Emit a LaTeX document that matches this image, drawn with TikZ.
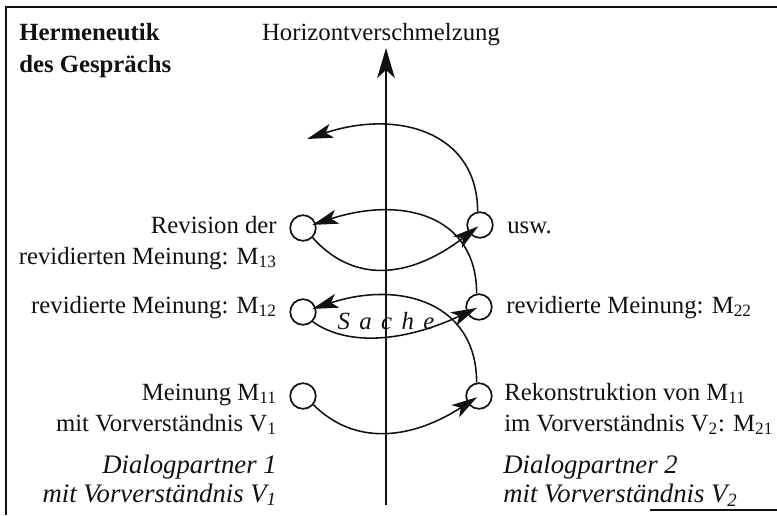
\documentclass[tikz,border=0pt]{standalone}
\usepackage{fontspec}
\setmainfont{Liberation Serif}
\usetikzlibrary{arrows.meta,positioning,calc}
\definecolor{ink}{HTML}{111111}
\tikzset{
  dot/.style={circle,draw=ink,line width=1.2pt,minimum size=0.64cm,inner sep=0pt},
  turn/.style={-{Stealth[length=6.5mm,width=3.6mm,inset=1.6mm]},line width=1.1pt,draw=ink},
  axis/.style={-{Stealth[length=7.5mm,width=4.4mm,inset=2mm]},line width=1.2pt,draw=ink},
  frame/.style={line width=1pt,draw=ink},
  lbl/.style={font=\fontsize{17.6}{22}\selectfont,text=ink,inner sep=0pt},
  partner/.style={font=\fontsize{19}{20.5}\selectfont\itshape,text=ink,inner sep=0pt}
}

\begin{document}
\begin{tikzpicture}[x=0.025cm,y=-0.025cm]
    \useasboundingbox (0,0) rectangle (777,515);
    \fill[white] (0,0) rectangle (777,515);
    \draw[frame] (6,515) -- (6,7) -- (777,7);
    \draw[frame] (650,510) -- (777,510);

    \node[lbl,font=\fontsize{17.6}{22.5}\selectfont\bfseries,anchor=base west,align=left] (title) at (19,72) {Hermeneutik\\des Gesprächs};
    \node[lbl,anchor=base] (horiz) at (381,40) {Horizontverschmelzung};
    \coordinate (abase) at (386,505);
    \coordinate (atop) at (386,48);
    \draw[axis] (abase) -- (atop);

    \node[dot] (l1) at (303,396) {};
    \node[dot] (r1) at (479,396) {};
    \node[dot] (l2) at (303,312) {};
    \node[dot] (r2) at (479,307) {};
    \node[dot] (l3) at (303,228) {};
    \node[dot] (r3) at (480,225) {};
    \coordinate (ahead) at (307,139);

    \node[lbl,anchor=base east,align=right] (m13) at (277,264) {Revision der\\revidierten Meinung: M\textsubscript{13}};
    \node[lbl,anchor=base east] (m12) at (277,313) {revidierte Meinung: M\textsubscript{12}};
    \node[lbl,anchor=base east,align=right] (m11) at (277,431) {Meinung M\textsubscript{11}\\mit Vorverständnis V\textsubscript{1}};
    \node[partner,anchor=base east,align=right] (dp1) at (277,502) {Dialogpartner 1\\mit Vorverständnis V\textsubscript{1}};

    \node[lbl,anchor=base west] (usw) at (507,233) {usw.};
    \node[lbl,anchor=base west] (m22) at (506,313) {revidierte Meinung: M\textsubscript{22}};
    \node[lbl,anchor=base west,align=left] (m21) at (504,431) {Rekonstruktion von M\textsubscript{11}\\im Vorverständnis V\textsubscript{2}: M\textsubscript{21}};
    \node[partner,anchor=base west,align=left] (dp2) at (503,502) {Dialogpartner 2\\mit Vorverständnis V\textsubscript{2}};

    \node[lbl,font=\fontsize{17.6}{22}\selectfont\itshape,anchor=base] (sache) at (386,329) {\spaceskip=0.38em S a c h e};

    % Gespraechsbewegung
    \draw[turn,shorten >=1.5pt] (l1.-40) .. controls +(40,40) and +(-70,45) .. (r1.center);
    \draw[turn,shorten >=7pt] (r1.100) .. controls +(0,-80) and +(97,-32) .. (l2.center);
    \draw[turn,shorten >=1.5pt] (l2.-45) .. controls +(35,25) and +(-75,35) .. (r2.center);
    \draw[turn,shorten >=7pt] (r2.100) .. controls +(0,-80) and +(97,-32) .. (l3.center);
    \draw[turn,shorten >=1.5pt] (l3.-45) .. controls +(40,45) and +(-72,55) .. (r3.center);
    \draw[turn] (r3.100) .. controls +(0,-80) and +(90,-30) .. (ahead);
  \end{tikzpicture}
\end{document}
